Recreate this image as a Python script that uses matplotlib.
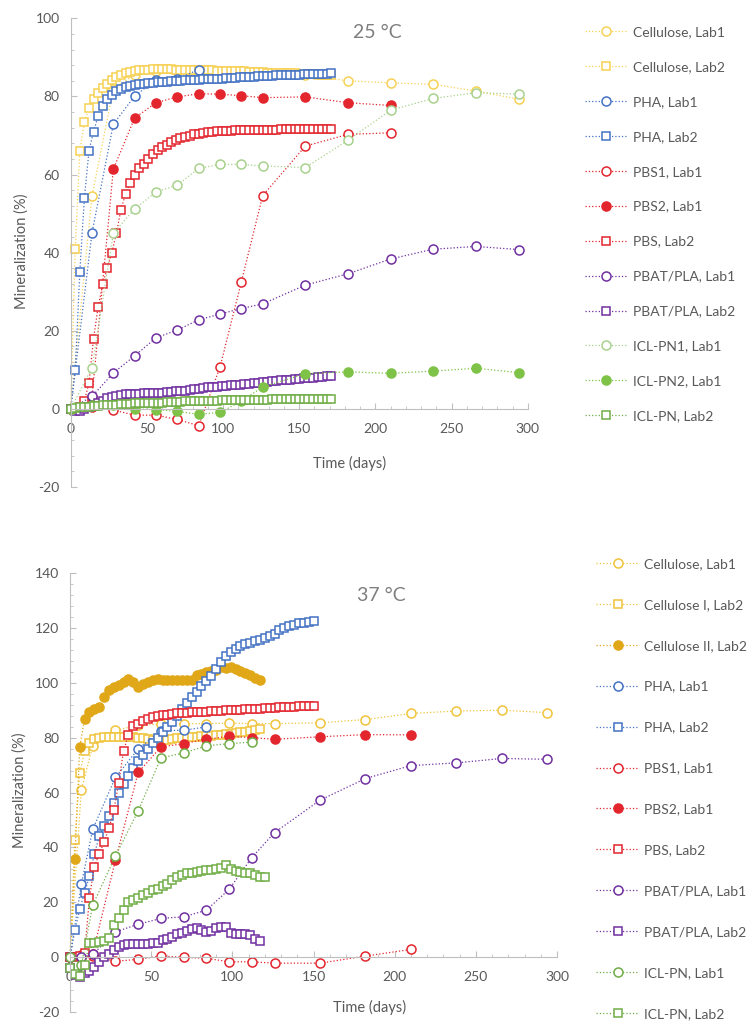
import matplotlib
matplotlib.use("Agg")
import matplotlib.pyplot as plt
from matplotlib.ticker import MultipleLocator

plt.rcParams['font.family'] = ['Lato', 'DejaVu Sans']
plt.rcParams['axes.unicode_minus'] = False

# ---- 25 °C ----
days_lab1_25 = [0, 14, 28, 42, 56, 70, 84, 98, 112, 126, 154, 182, 210, 238, 266, 294]
days_lab2_25 = [0, 3, 6, 9, 12, 15, 18, 21, 24, 27, 30, 33, 36, 39, 42, 45, 48, 51, 54, 57,
                60, 63, 66, 69, 72, 75, 78, 81, 84, 87, 90, 93, 96, 99, 102, 105, 108, 111, 114, 117,
                120, 123, 126, 129, 132, 135, 138, 141, 144, 147, 150, 153, 156, 159, 162, 165, 168, 171]

cell_lab1_25 = [0, 54.5, 82, 85.5, 86.5, 86.5, 86.8, 86.5, 86.5, 86, 85.5, 84, 83.5, 83.1, 81.4, 79.3]
cell_lab2_25 = [0, 41, 66, 73.5, 77, 79.3, 81, 82.2, 83.2, 84.3,
                85, 85.6, 86, 86.3, 86.5, 86.7, 86.8, 86.9, 87, 87,
                87, 87, 87, 86.9, 86.9, 86.9, 86.8, 86.8, 86.8, 86.7,
                86.7, 86.7, 86.6, 86.6, 86.5, 86.5, 86.5, 86.4, 86.4, 86.3,
                86.3, 86.2, 86.2, 86.1, 86.1, 86, 86, 86, 85.9, 85.9,
                85.8, 85.8, 85.7, 85.7, 85.6, 85.6, 85.5, 85.5]
pha_lab1_25 = [0, 45.1, 72.9, 80.1, 84.3, 84.5, 86.9]
pha_lab2_25 = [0, 10, 35, 54, 66, 71, 75, 77.5, 79.3, 80.4,
               81.3, 82, 82.5, 82.8, 83, 83.2, 83.3, 83.4, 83.5, 83.6,
               83.7, 83.8, 83.9, 84, 84, 84.1, 84.2, 84.2, 84.3, 84.4,
               84.4, 84.5, 84.6, 84.6, 84.7, 84.8, 84.8, 84.9, 85, 85,
               85.1, 85.2, 85.2, 85.3, 85.3, 85.4, 85.4, 85.5, 85.5, 85.6,
               85.6, 85.7, 85.7, 85.7, 85.8, 85.8, 85.8, 85.9]
pbs1_lab1_25 = [0, 0.5, -0.3, -1.6, -1.6, -2.7, -4.3, 10.7, 32.5, 54.6, 67.3, 70.3, 70.7]
pbs2_lab1_25 = [0, 3, 61.4, 74.5, 78.4, 79.9, 80.7, 80.6, 80.2, 79.7, 79.9, 78.4, 77.7]
pbs_lab2_25 = [0, 0, 0.5, 2, 6.6, 18, 26, 32, 36, 40,
               45, 51, 55, 57.8, 60, 61.7, 62.8, 64.1, 65.2, 66.2,
               67, 67.7, 68.3, 68.8, 69.3, 69.7, 70, 70.3, 70.5, 70.7,
               70.9, 71, 71.1, 71.1, 71.2, 71.2, 71.3, 71.3, 71.3, 71.4,
               71.4, 71.4, 71.5, 71.5, 71.5, 71.5, 71.6, 71.6, 71.6, 71.6,
               71.7, 71.7, 71.7, 71.7, 71.8, 71.8, 71.8, 71.8]
pbat_lab1_25 = [0, 3.2, 9.2, 13.6, 18.2, 20.2, 22.8, 24.3, 25.7, 26.9, 31.7, 34.6, 38.4, 40.9, 41.6, 40.8]
pbat_lab2_25 = [0, -0.5, -0.5, 0, 0.5, 1, 1.5, 2, 2.7, 3.1,
                3.4, 3.6, 3.7, 3.8, 3.9, 3.9, 4, 4, 4.1, 4.1,
                4.2, 4.3, 4.4, 4.5, 4.6, 4.7, 4.8, 5, 5.2, 5.3,
                5.5, 5.6, 5.7, 5.8, 5.9, 6, 6.1, 6.2, 6.3, 6.4,
                6.6, 6.7, 6.9, 7, 7.1, 7.2, 7.3, 7.4, 7.5, 7.6,
                7.7, 7.8, 7.9, 8, 8.1, 8.2, 8.3, 8.4]
iclpn1_lab1_25 = [0, 10.5, 45, 51.2, 55.6, 57.3, 61.6, 62.6, 62.6, 62.2, 61.8, 68.8, 76.5, 79.5, 81, 80.6]
iclpn2_lab1_25 = [0, 1.1, 0.9, 0, -0.2, -0.6, -1.4, -0.9, 2, 5.6, 9, 9.5, 9.1, 9.7, 10.4, 9.3]
iclpn_lab2_25 = [0, 0.2, 0.4, 0.5, 0.6, 0.7, 0.8, 0.9, 0.9, 1,
                 1.1, 1.2, 1.3, 1.3, 1.4, 1.4, 1.5, 1.5, 1.5, 1.6,
                 1.6, 1.7, 1.7, 1.8, 1.8, 1.9, 1.9, 2, 2, 2,
                 2.1, 2.1, 2.1, 2.2, 2.2, 2.2, 2.3, 2.3, 2.3, 2.3,
                 2.4, 2.4, 2.4, 2.4, 2.5, 2.5, 2.5, 2.5, 2.5, 2.5,
                 2.5, 2.6, 2.6, 2.6, 2.6, 2.6, 2.6, 2.6]

# ---- 37 °C ----
days_lab1_37 = [0, 7, 14, 28, 42, 56, 70, 84, 98, 112, 126, 154, 182, 210, 238, 266, 294]
days_lab2_37 = [0, 3, 6, 9, 12, 15, 18, 21, 24, 27, 30, 33, 36, 39, 42, 45, 48, 51, 54, 57,
                60, 63, 66, 69, 72, 75, 78, 81, 84, 87, 90, 93, 96, 99, 102, 105, 108, 111, 114, 117,
                120, 123, 126, 129, 132, 135, 138, 141, 144, 147, 150]

cell_lab1_37 = [0, 61, 77, 82.7, 84.5, 85, 85.1, 85.1, 85.3, 85.1, 85.1, 85.4, 86.6, 88.8, 89.7, 90, 89.1]
cell1_lab2_37 = [0, 42.6, 67, 75, 78, 79.5, 80, 80.2, 80.3, 80.3,
                 80.3, 80.2, 80.2, 80.1, 80, 79.8, 79.5, 79.2, 79, 79,
                 79.2, 79.5, 79.8, 80, 80.1, 80.2, 80.3, 80.5, 80.6, 80.7,
                 80.8, 81, 81.2, 81.4, 81.6, 81.9, 82.2, 82.5, 82.8, 83]
cell2_lab2_37 = [0, 35.7, 76.6, 86.9, 89.4, 90.3, 91.2, 94.8, 97.3, 98.5,
                 99.1, 100.3, 101.5, 100.1, 98.5, 99.5, 100.3, 101.1, 101.3, 100.9,
                 100.9, 100.9, 100.9, 100.9, 100.9, 101, 102.7, 103.3, 103.9, 104.2,
                 104.7, 105.7, 105.5, 105.7, 105.1, 104.2, 103.6, 103, 101.9, 100.9]
pha_lab1_37 = [0, 26.6, 46.6, 65.5, 75.9, 82.5, 82.7, 83.9]
pha_lab2_37 = [0, 9.8, 17.4, 23.5, 29.6, 37.5, 44, 47.8, 51.5, 56,
               59.8, 63, 66, 68.8, 71.5, 73.8, 75.8, 78, 80, 82,
               84, 85.8, 88, 90.5, 92.5, 94.7, 96.7, 98.7, 100.5, 102.3,
               105, 107.7, 109.7, 111.2, 112.3, 113.3, 114, 114.6, 115.2, 115.7,
               116.3, 117, 117.8, 119.1, 119.9, 120.5, 121.1, 121.6, 121.9, 122.2,
               122.5]
pbs1_lab1_37 = [0, 0, 0.5, -1.5, -0.8, 0.4, -0.1, -0.4, -1.7, -1.7, -2.2, -2.2, 0.4, 2.8]
pbs2_lab1_37 = [0, 0.7, 1.3, 35.3, 67.3, 76.6, 77.8, 79.4, 80.5, 80, 79.4, 80.3, 81.1, 81]
pbs_lab2_37 = [0, 0, 0.5, 1.5, 21.7, 33, 37.5, 42, 47, 53.5,
               63.5, 75.2, 81, 84.3, 85.1, 86, 86.7, 87.4, 87.8, 88.1,
               88.4, 88.6, 88.8, 89, 89.1, 89.2, 89.3, 89.4, 89.5, 89.6,
               89.7, 89.8, 89.9, 90, 90.1, 90.2, 90.3, 90.4, 90.5, 90.6,
               90.7, 90.8, 90.9, 91, 91.1, 91.2, 91.3, 91.4, 91.5, 91.5,
               91.6]
pbat_lab1_37 = [0, 0, 1, 9.2, 12, 14.1, 14.7, 17.1, 24.7, 36.3, 45.4, 57.2, 65.1, 69.8, 70.8, 72.4, 72.1]
pbat_lab2_37 = [-4, -6.5, -7.2, -5.9, -5, -3.5, -1.7, 0.1, 1.3, 2.5,
                3.8, 4.6, 4.9, 4.9, 4.9, 4.9, 4.9, 5, 5.3, 6.2,
                6.6, 7.5, 8.3, 8.9, 9.7, 10.3, 10.6, 9.9, 9.2, 9.5,
                10.6, 11.1, 11, 8.7, 8.5, 8.3, 8.3, 8.1, 6.5, 5.8]
iclpn_lab1_37 = [0, -3, 19, 36.8, 53.3, 72.6, 74.4, 77, 77.8, 78.4]
iclpn_lab2_37 = [-4, -6, -7, -3, 5, 5.2, 5.5, 6, 7, 11.7,
                 14.1, 17.1, 20.1, 20.8, 21.7, 22.6, 23.4, 24.4, 25, 26,
                 26.8, 28.1, 29.1, 29.9, 30.5, 30.8, 31.1, 31.4, 31.7, 31.9,
                 32.2, 32.6, 33.5, 32.3, 31.5, 31.1, 30.7, 30.5, 29.9, 29.3,
                 29.1]

YELLOW_T = '#F7D154'
YELLOW_B = '#F0C43C'
GOLD = '#E0A818'
BLUE = '#4472C4'
RED = '#E3262E'
PURPLE = '#7030A0'
LGREEN = '#A9D18E'
GREEN = '#7EC247'
OLIVE = '#70AD47'
GREY = '#595959'


def series(ax, days, vals, color, marker, label, filled=False, ms=6.5):
    ax.plot(days[:len(vals)], vals, linestyle=':', linewidth=0.9, color=color,
            marker=marker, markersize=ms, markeredgewidth=1.1,
            markerfacecolor=color if filled else 'white', markeredgecolor=color,
            label=label, clip_on=False)


def style_axes(ax, ymin, ymax):
    ax.set_xlim(0, 300)
    ax.set_ylim(ymin, ymax)
    for s in ['top', 'right']:
        ax.spines[s].set_visible(False)
    ax.spines['bottom'].set_position(('data', 0))
    for s in ['left', 'bottom']:
        ax.spines[s].set_color('#BFBFBF')
        ax.spines[s].set_linewidth(0.8)
    ax.xaxis.set_major_locator(MultipleLocator(50))
    ax.xaxis.set_minor_locator(MultipleLocator(10))
    ax.yaxis.set_major_locator(MultipleLocator(20))
    ax.yaxis.set_minor_locator(MultipleLocator(4))
    ax.tick_params(which='both', direction='in', color='#BFBFBF', labelcolor=GREY, labelsize=10)
    ax.tick_params(which='major', length=4)
    ax.tick_params(which='minor', length=2.5)
    ax.tick_params(axis='y', pad=8)
    ax.tick_params(axis='x', pad=10)
    ax.set_ylabel('Mineralization (%)', color=GREY, fontsize=10.5)
    ax.set_xlabel('Time (days)', color=GREY, fontsize=10.5)


fig = plt.figure(figsize=(7.47, 10.21), dpi=100)

ax1 = fig.add_axes([0.0946, 0.523, 0.612, 0.459])
series(ax1, days_lab1_25, cell_lab1_25, YELLOW_T, 'o', 'Cellulose, Lab1')
series(ax1, days_lab2_25, cell_lab2_25, YELLOW_T, 's', 'Cellulose, Lab2', ms=5.2)
series(ax1, days_lab1_25, pha_lab1_25, BLUE, 'o', 'PHA, Lab1')
series(ax1, days_lab2_25, pha_lab2_25, BLUE, 's', 'PHA, Lab2', ms=5.2)
series(ax1, days_lab1_25, pbs1_lab1_25, RED, 'o', 'PBS1, Lab1')
series(ax1, days_lab1_25, pbs2_lab1_25, RED, 'o', 'PBS2, Lab1', filled=True)
series(ax1, days_lab2_25, pbs_lab2_25, RED, 's', 'PBS, Lab2', ms=5.2)
series(ax1, days_lab1_25, pbat_lab1_25, PURPLE, 'o', 'PBAT/PLA, Lab1')
series(ax1, days_lab2_25, pbat_lab2_25, PURPLE, 's', 'PBAT/PLA, Lab2', ms=5.2)
series(ax1, days_lab1_25, iclpn1_lab1_25, LGREEN, 'o', 'ICL-PN1, Lab1')
series(ax1, days_lab1_25, iclpn2_lab1_25, GREEN, 'o', 'ICL-PN2, Lab1', filled=True)
series(ax1, days_lab2_25, iclpn_lab2_25, OLIVE, 's', 'ICL-PN, Lab2', ms=5.2)
style_axes(ax1, -20, 100)
ax1.xaxis.set_label_coords(0.611, 0.066)
ax1.yaxis.set_label_coords(-0.092, 0.503)
ax1.legend(loc='upper left', bbox_to_anchor=(0.783, 0.9745), bbox_transform=fig.transFigure,
           frameon=False, fontsize=10, labelcolor=GREY, labelspacing=1.65, handlelength=3.1,
           handletextpad=0.36, borderpad=0, borderaxespad=0)
fig.text(0.505, 0.968, '25 °C', ha='center', va='center', fontsize=14, color='#7F7F7F')

ax2 = fig.add_axes([0.0937, 0.0088, 0.652, 0.430])
series(ax2, days_lab1_37, cell_lab1_37, YELLOW_B, 'o', 'Cellulose, Lab1')
series(ax2, days_lab2_37, cell1_lab2_37, YELLOW_B, 's', 'Cellulose I, Lab2', ms=5.6)
series(ax2, days_lab2_37, cell2_lab2_37, GOLD, 'o', 'Cellulose II, Lab2', filled=True)
series(ax2, days_lab1_37, pha_lab1_37, BLUE, 'o', 'PHA, Lab1')
series(ax2, days_lab2_37, pha_lab2_37, BLUE, 's', 'PHA, Lab2', ms=5.6)
series(ax2, days_lab1_37, pbs1_lab1_37, RED, 'o', 'PBS1, Lab1')
series(ax2, days_lab1_37, pbs2_lab1_37, RED, 'o', 'PBS2, Lab1', filled=True)
series(ax2, days_lab2_37, pbs_lab2_37, RED, 's', 'PBS, Lab2', ms=5.6)
series(ax2, days_lab1_37, pbat_lab1_37, PURPLE, 'o', 'PBAT/PLA, Lab1')
series(ax2, days_lab2_37, pbat_lab2_37, PURPLE, 's', 'PBAT/PLA, Lab2', ms=5.6)
series(ax2, days_lab1_37, iclpn_lab1_37, OLIVE, 'o', 'ICL-PN, Lab1')
series(ax2, days_lab2_37, iclpn_lab2_37, OLIVE, 's', 'ICL-PN, Lab2', ms=5.6)
style_axes(ax2, -20, 140)
ax2.xaxis.set_label_coords(0.616, 0.027)
ax2.yaxis.set_label_coords(-0.088, 0.506)
ax2.legend(loc='upper left', bbox_to_anchor=(0.798, 0.4535), bbox_transform=fig.transFigure,
           frameon=False, fontsize=10, labelcolor=GREY, labelspacing=2.08, handlelength=3.1,
           handletextpad=0.36, borderpad=0, borderaxespad=0)
fig.text(0.511, 0.4172, '37 °C', ha='center', va='center', fontsize=14, color='#7F7F7F')

fig.savefig('out.png', dpi=100)
